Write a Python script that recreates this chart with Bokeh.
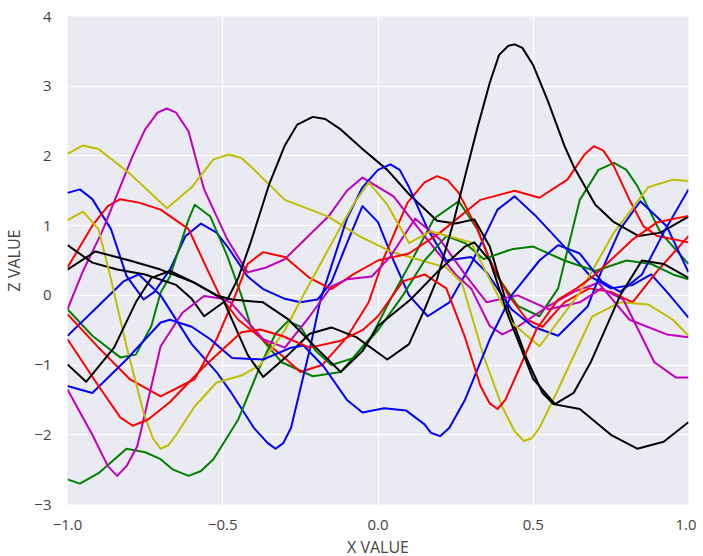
from bokeh.plotting import figure
from bokeh.models import FixedTicker, Range1d
from bokeh.embed import file_html
from bokeh.resources import INLINE

# --- data: knots (x, z) for each curve ---
blue_a_x = [-1, -0.96, -0.92, -0.86, -0.81, -0.755, -0.72, -0.67, -0.62, -0.57, -0.52, -0.485, -0.42, -0.37, -0.3, -0.25, -0.195, -0.15, -0.1, -0.05, 0.0, 0.05, 0.1, 0.16, 0.23, 0.3, 0.385, 0.44, 0.51, 0.6, 0.685, 0.75, 0.82, 0.88, 0.94, 1.0]
blue_a_z = [1.47, 1.52, 1.38, 0.95, 0.28, -0.06, 0.05, 0.37, 0.85, 1.03, 0.9, 0.7, 0.27, 0.09, -0.05, -0.1, -0.06, 0.19, 0.75, 1.28, 1.05, 0.5, 0.0, -0.3, -0.1, 0.45, 1.23, 1.42, 1.13, 0.7, 0.27, 0.1, 0.15, 0.3, 0.0, -0.32]

blue_b_x = [-1, -0.9, -0.82, -0.77, -0.7, -0.6, -0.52, -0.475, -0.4, -0.355, -0.33, -0.305, -0.28, -0.22, -0.185, -0.15, -0.1, -0.05, 0.0, 0.04, 0.07, 0.1, 0.16, 0.22, 0.3, 0.35, 0.43, 0.5, 0.58, 0.675, 0.72, 0.78, 0.845, 0.93, 1.0]
blue_b_z = [-0.58, -0.15, 0.2, 0.3, 0.0, -0.7, -1.1, -1.38, -1.9, -2.12, -2.2, -2.12, -1.9, -0.78, -0.06, 0.42, 1.1, 1.55, 1.8, 1.88, 1.8, 1.55, 0.95, 0.5, 0.55, 0.33, -0.2, -0.45, -0.58, -0.16, 0.35, 0.95, 1.35, 0.99, 0.33]

blue_c_x = [-1, -0.92, -0.81, -0.7, -0.67, -0.6, -0.54, -0.47, -0.37, -0.28, -0.24, -0.175, -0.1, -0.05, 0.02, 0.09, 0.15, 0.17, 0.2, 0.23, 0.28, 0.36, 0.43, 0.52, 0.58, 0.65, 0.72, 0.78, 0.85, 0.92, 1.0]
blue_c_z = [-1.3, -1.4, -0.92, -0.39, -0.35, -0.45, -0.63, -0.9, -0.92, -0.75, -0.72, -1.02, -1.5, -1.68, -1.62, -1.65, -1.85, -1.97, -2.02, -1.9, -1.5, -0.63, 0.0, 0.5, 0.72, 0.6, 0.2, 0.05, 0.3, 0.9, 1.52]

green_a_x = [-1, -0.92, -0.83, -0.78, -0.73, -0.7, -0.67, -0.61, -0.59, -0.54, -0.485, -0.44, -0.41, -0.31, -0.21, -0.12, -0.02, 0.04, 0.105, 0.18, 0.26, 0.32, 0.38, 0.45, 0.52, 0.58, 0.65, 0.71, 0.76, 0.8, 0.835, 0.91, 1.0]
green_a_z = [-0.2, -0.58, -0.89, -0.85, -0.44, 0.04, 0.27, 1.09, 1.3, 1.13, 0.56, 0.0, -0.44, -0.96, -1.16, -1.1, -0.58, -0.06, 0.47, 1.1, 1.35, 0.95, 0.3, -0.15, -0.3, 0.1, 1.37, 1.8, 1.9, 1.8, 1.57, 0.9, 0.45]

green_b_x = [-1, -0.96, -0.9, -0.81, -0.75, -0.7, -0.66, -0.61, -0.57, -0.53, -0.45, -0.38, -0.33, -0.29, -0.25, -0.2, -0.15, -0.08, 0.0, 0.08, 0.15, 0.22, 0.28, 0.34, 0.43, 0.5, 0.6, 0.7, 0.8, 0.88, 0.95, 1.0]
green_b_z = [-2.64, -2.7, -2.55, -2.2, -2.25, -2.35, -2.5, -2.59, -2.52, -2.35, -1.78, -1.02, -0.55, -0.37, -0.45, -0.8, -1.0, -0.9, -0.5, 0.0, 0.5, 0.85, 0.75, 0.52, 0.66, 0.7, 0.5, 0.35, 0.5, 0.45, 0.3, 0.23]

red_a_x = [-1, -0.92, -0.87, -0.83, -0.77, -0.7, -0.61, -0.56, -0.51, -0.45, -0.38, -0.3, -0.25, -0.18, -0.1, -0.03, 0.02, 0.095, 0.15, 0.19, 0.225, 0.26, 0.32, 0.36, 0.42, 0.48, 0.53, 0.6, 0.68, 0.75, 0.82, 0.9, 1.0]
red_a_z = [0.4, 1.0, 1.28, 1.38, 1.33, 1.23, 0.95, 0.47, 0.0, -0.35, -0.6, -0.9, -1.1, -1.0, -0.6, -0.1, 0.55, 1.33, 1.62, 1.71, 1.65, 1.47, 0.95, 0.5, 0.0, -0.35, -0.45, -0.1, 0.1, 0.05, -0.1, 0.35, 0.85]

red_b_x = [-1, -0.9, -0.8, -0.7, -0.59, -0.52, -0.465, -0.42, -0.37, -0.3, -0.22, -0.15, -0.08, 0.0, 0.1, 0.2, 0.33, 0.44, 0.52, 0.61, 0.665, 0.695, 0.725, 0.76, 0.81, 0.855, 0.9, 1.0]
red_b_z = [-0.27, -0.75, -1.2, -1.45, -1.2, -0.63, -0.06, 0.45, 0.62, 0.55, 0.25, 0.09, 0.3, 0.5, 0.6, 0.9, 1.37, 1.5, 1.4, 1.66, 2.02, 2.14, 2.08, 1.85, 1.37, 0.99, 0.85, 0.76]

red_c_x = [-1, -0.9, -0.83, -0.79, -0.74, -0.67, -0.56, -0.44, -0.38, -0.31, -0.22, -0.12, -0.05, 0.0, 0.08, 0.15, 0.22, 0.28, 0.33, 0.36, 0.385, 0.41, 0.44, 0.51, 0.58, 0.64, 0.7, 0.76, 0.82, 0.9, 1.0]
red_c_z = [-0.63, -1.3, -1.75, -1.87, -1.78, -1.53, -1.02, -0.53, -0.49, -0.58, -0.75, -0.65, -0.5, -0.3, 0.2, 0.3, 0.1, -0.6, -1.3, -1.55, -1.63, -1.5, -1.2, -0.49, -0.06, 0.1, 0.3, 0.55, 0.8, 1.05, 1.14]

magenta_a_x = [-1, -0.95, -0.89, -0.79, -0.75, -0.71, -0.68, -0.65, -0.61, -0.56, -0.485, -0.42, -0.36, -0.3, -0.16, -0.1, -0.05, 0.05, 0.15, 0.25, 0.3, 0.36, 0.4, 0.45, 0.55, 0.63, 0.71, 0.81, 0.93, 1.0]
magenta_a_z = [-0.2, 0.35, 0.9, 2.0, 2.38, 2.62, 2.68, 2.62, 2.35, 1.52, 0.8, 0.33, 0.4, 0.52, 1.13, 1.5, 1.69, 1.42, 0.85, 0.3, 0.1, -0.44, -0.56, -0.45, -0.15, 0.05, 0.18, -0.35, -0.56, -0.6]

magenta_b_x = [-1, -0.92, -0.87, -0.84, -0.81, -0.775, -0.7, -0.63, -0.56, -0.5, -0.475, -0.37, -0.3, -0.22, -0.15, -0.1, -0.02, 0.04, 0.12, 0.2, 0.28, 0.35, 0.45, 0.55, 0.65, 0.72, 0.79, 0.89, 0.96, 1.0]
magenta_b_z = [-1.35, -2.0, -2.45, -2.59, -2.45, -2.16, -0.73, -0.25, -0.01, -0.05, -0.1, -0.63, -0.75, -0.3, 0.13, 0.23, 0.27, 0.56, 1.1, 0.8, 0.3, -0.1, 0.0, -0.2, -0.1, 0.1, -0.06, -0.96, -1.18, -1.18]

yellow_a_x = [-1, -0.95, -0.9, -0.8, -0.68, -0.6, -0.53, -0.48, -0.44, -0.41, -0.3, -0.16, -0.06, 0.04, 0.14, 0.22, 0.27, 0.34, 0.4, 0.44, 0.47, 0.495, 0.52, 0.58, 0.69, 0.78, 0.87, 0.95, 1.0]
yellow_a_z = [2.03, 2.15, 2.1, 1.75, 1.25, 1.55, 1.95, 2.02, 1.97, 1.85, 1.37, 1.13, 0.85, 0.63, 0.5, 0.4, 0.18, -0.87, -1.6, -1.95, -2.09, -2.05, -1.9, -1.35, -0.3, -0.1, -0.13, -0.35, -0.58]

yellow_b_x = [-1, -0.95, -0.9, -0.86, -0.81, -0.755, -0.725, -0.7, -0.675, -0.65, -0.59, -0.52, -0.44, -0.38, -0.3, -0.26, -0.16, -0.08, -0.03, 0.03, 0.1, 0.17, 0.3, 0.43, 0.52, 0.65, 0.76, 0.87, 0.95, 1.0]
yellow_b_z = [1.08, 1.2, 0.95, 0.23, -0.73, -1.68, -2.05, -2.2, -2.15, -2.0, -1.59, -1.25, -1.15, -1.0, -0.5, -0.16, 0.66, 1.3, 1.62, 1.3, 0.75, 0.92, 0.76, -0.39, -0.73, 0.04, 0.9, 1.55, 1.66, 1.64]

black_a_x = [-1, -0.92, -0.84, -0.75, -0.65, -0.6, -0.56, -0.485, -0.45, -0.41, -0.35, -0.3, -0.26, -0.21, -0.17, -0.12, -0.05, 0.03, 0.1, 0.19, 0.25, 0.31, 0.36, 0.42, 0.48, 0.53, 0.565, 0.65, 0.75, 0.835, 0.92, 1.0]
black_a_z = [0.72, 0.47, 0.37, 0.3, 0.15, -0.05, -0.3, -0.06, 0.25, 0.76, 1.6, 2.15, 2.45, 2.56, 2.53, 2.38, 2.1, 1.8, 1.45, 1.07, 1.03, 1.09, 0.7, -0.2, -0.92, -1.4, -1.56, -1.63, -2.0, -2.2, -2.1, -1.82]

black_b_x = [-1, -0.91, -0.8, -0.7, -0.59, -0.5, -0.42, -0.37, -0.3, -0.22, -0.15, -0.07, 0.03, 0.1, 0.15, 0.19, 0.24, 0.28, 0.32, 0.36, 0.39, 0.42, 0.44, 0.465, 0.5, 0.546, 0.6, 0.63, 0.7, 0.76, 0.84, 0.91, 1.0]
black_b_z = [0.37, 0.63, 0.5, 0.37, 0.18, -0.05, -0.85, -1.17, -0.9, -0.55, -0.46, -0.6, -0.92, -0.7, -0.2, 0.23, 1.0, 1.7, 2.4, 3.05, 3.45, 3.58, 3.6, 3.55, 3.3, 2.8, 2.15, 1.85, 1.3, 1.05, 0.85, 0.9, 1.13]

black_c_x = [-1, -0.94, -0.85, -0.78, -0.73, -0.67, -0.6, -0.52, -0.47, -0.37, -0.29, -0.2, -0.12, -0.05, 0.0, 0.105, 0.19, 0.28, 0.31, 0.36, 0.42, 0.5, 0.57, 0.63, 0.685, 0.78, 0.85, 0.92, 1.0]
black_c_z = [-0.99, -1.24, -0.75, -0.1, 0.25, 0.35, 0.2, 0.0, -0.06, -0.1, -0.34, -0.75, -1.1, -0.8, -0.44, -0.06, 0.33, 0.7, 0.76, 0.5, -0.3, -1.2, -1.56, -1.4, -0.96, 0.0, 0.5, 0.45, 0.25]

x_ticks = [-1.0, -0.5, 0.0, 0.5, 1.0]
x_tick_labels = ["\u22121.0", "\u22120.5", "0.0", "0.5", "1.0"]
y_ticks = [-3, -2, -1, 0, 1, 2, 3, 4]
y_tick_labels = ["\u22123", "\u22122", "\u22121", "0", "1", "2", "3", "4"]

BLUE = "#0000ff"
GREEN = "#008000"
RED = "#ff0000"
MAGENTA = "#bf00bf"
YELLOW = "#bfbf00"
BLACK = "#000000"

curves = [
    (blue_a_x, blue_a_z, BLUE),
    (green_a_x, green_a_z, GREEN),
    (red_a_x, red_a_z, RED),
    (magenta_a_x, magenta_a_z, MAGENTA),
    (yellow_a_x, yellow_a_z, YELLOW),
    (black_a_x, black_a_z, BLACK),
    (blue_b_x, blue_b_z, BLUE),
    (green_b_x, green_b_z, GREEN),
    (red_b_x, red_b_z, RED),
    (magenta_b_x, magenta_b_z, MAGENTA),
    (yellow_b_x, yellow_b_z, YELLOW),
    (black_b_x, black_b_z, BLACK),
    (blue_c_x, blue_c_z, BLUE),
    (red_c_x, red_c_z, RED),
    (black_c_x, black_c_z, BLACK),
]

FONT = "Open Sans"
TEXT = "#444444"

p = figure(
    output_backend="svg", toolbar_location=None,
    frame_width=621, frame_height=488,
    min_border_left=60, min_border_top=16, min_border_right=8, min_border_bottom=50,
    x_range=Range1d(-1, 1), y_range=Range1d(-3, 4),
    background_fill_color="#eaeaf2", border_fill_color="white",
)
p.outline_line_color = None

for xs, zs, c in curves:
    p.line(xs, zs, line_color=c, line_width=2, line_join="round")

p.xaxis.ticker = FixedTicker(ticks=x_ticks)
p.yaxis.ticker = FixedTicker(ticks=y_ticks)
p.xaxis.major_label_overrides = dict(zip(x_ticks, x_tick_labels))
p.yaxis.major_label_overrides = dict(zip(y_ticks, y_tick_labels))
for ax in (p.xaxis, p.yaxis):
    ax.axis_line_color = None
    ax.major_tick_line_color = None
    ax.minor_tick_line_color = None
    ax.major_label_text_font = FONT
    ax.major_label_text_font_size = "15px"
    ax.major_label_text_color = TEXT
    ax.axis_label_text_font = FONT
    ax.axis_label_text_font_size = "16px"
    ax.axis_label_text_font_style = "normal"
    ax.axis_label_text_color = TEXT
p.xaxis.axis_label = "X VALUE"
p.yaxis.axis_label = "Z VALUE"
p.xaxis.major_label_standoff = 9
p.yaxis.major_label_standoff = 10
p.xaxis.axis_label_standoff = 3
p.yaxis.axis_label_standoff = 6

p.xgrid.grid_line_color = "white"
p.ygrid.grid_line_color = "white"
p.xgrid.grid_line_width = 1.2
p.ygrid.grid_line_width = 1.2

open("out.html", "w").write(file_html(p, INLINE))
